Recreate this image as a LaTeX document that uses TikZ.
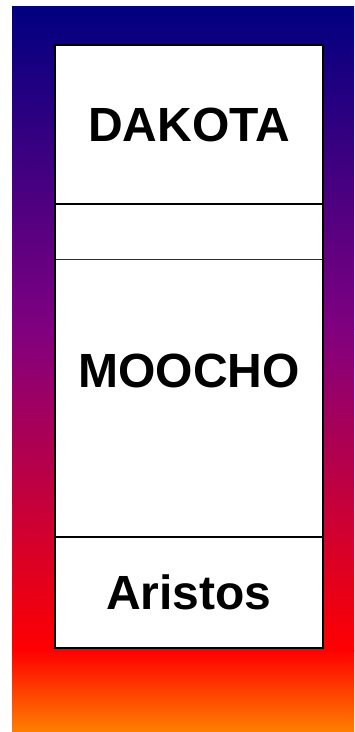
\documentclass[tikz,border=0pt]{standalone}
\usepackage{fontspec}
\setmainfont{Liberation Sans}
\usetikzlibrary{positioning, calc}
\usepackage{xcolor}
\definecolor{topblue}{RGB}{0, 0, 128}
\definecolor{midpurple}{RGB}{128, 0, 128}
\definecolor{midred}{RGB}{255, 0, 0}
\definecolor{loworange}{RGB}{255, 128, 0}
\definecolor{gappurple}{RGB}{100, 0, 128}

\begin{document}
\begin{tikzpicture}[x=1pt, y=-1pt,
  layer/.style={draw=black, line width=2.5pt, fill=white, minimum width=268pt, inner sep=0pt, outer sep=0pt, font=\fontsize{48}{56}\selectfont\bfseries},
  gapline/.style={gappurple, line width=1pt}]
\useasboundingbox (0,0) rectangle (354,732);
% background
\shade[top color=topblue, bottom color=midpurple] (12,6) rectangle (354,329);
\shade[top color=midpurple, bottom color=midred] (12,328) rectangle (354,651);
\shade[top color=midred, bottom color=loworange] (12,650) rectangle (354,732);
% stack
\node[layer, minimum height=159pt] (dakota) at (189,124.5) {DAKOTA};
\node[layer, minimum height=333pt, below=0pt of dakota] (moocho) {MOOCHO};
\node[layer, minimum height=111pt, below=0pt of moocho] (aristos) {Aristos};
\draw[gapline] ($(moocho.north west)+(1.25,55)$) -- ($(moocho.north east)+(-1.25,55)$);
\end{tikzpicture}
\end{document}
